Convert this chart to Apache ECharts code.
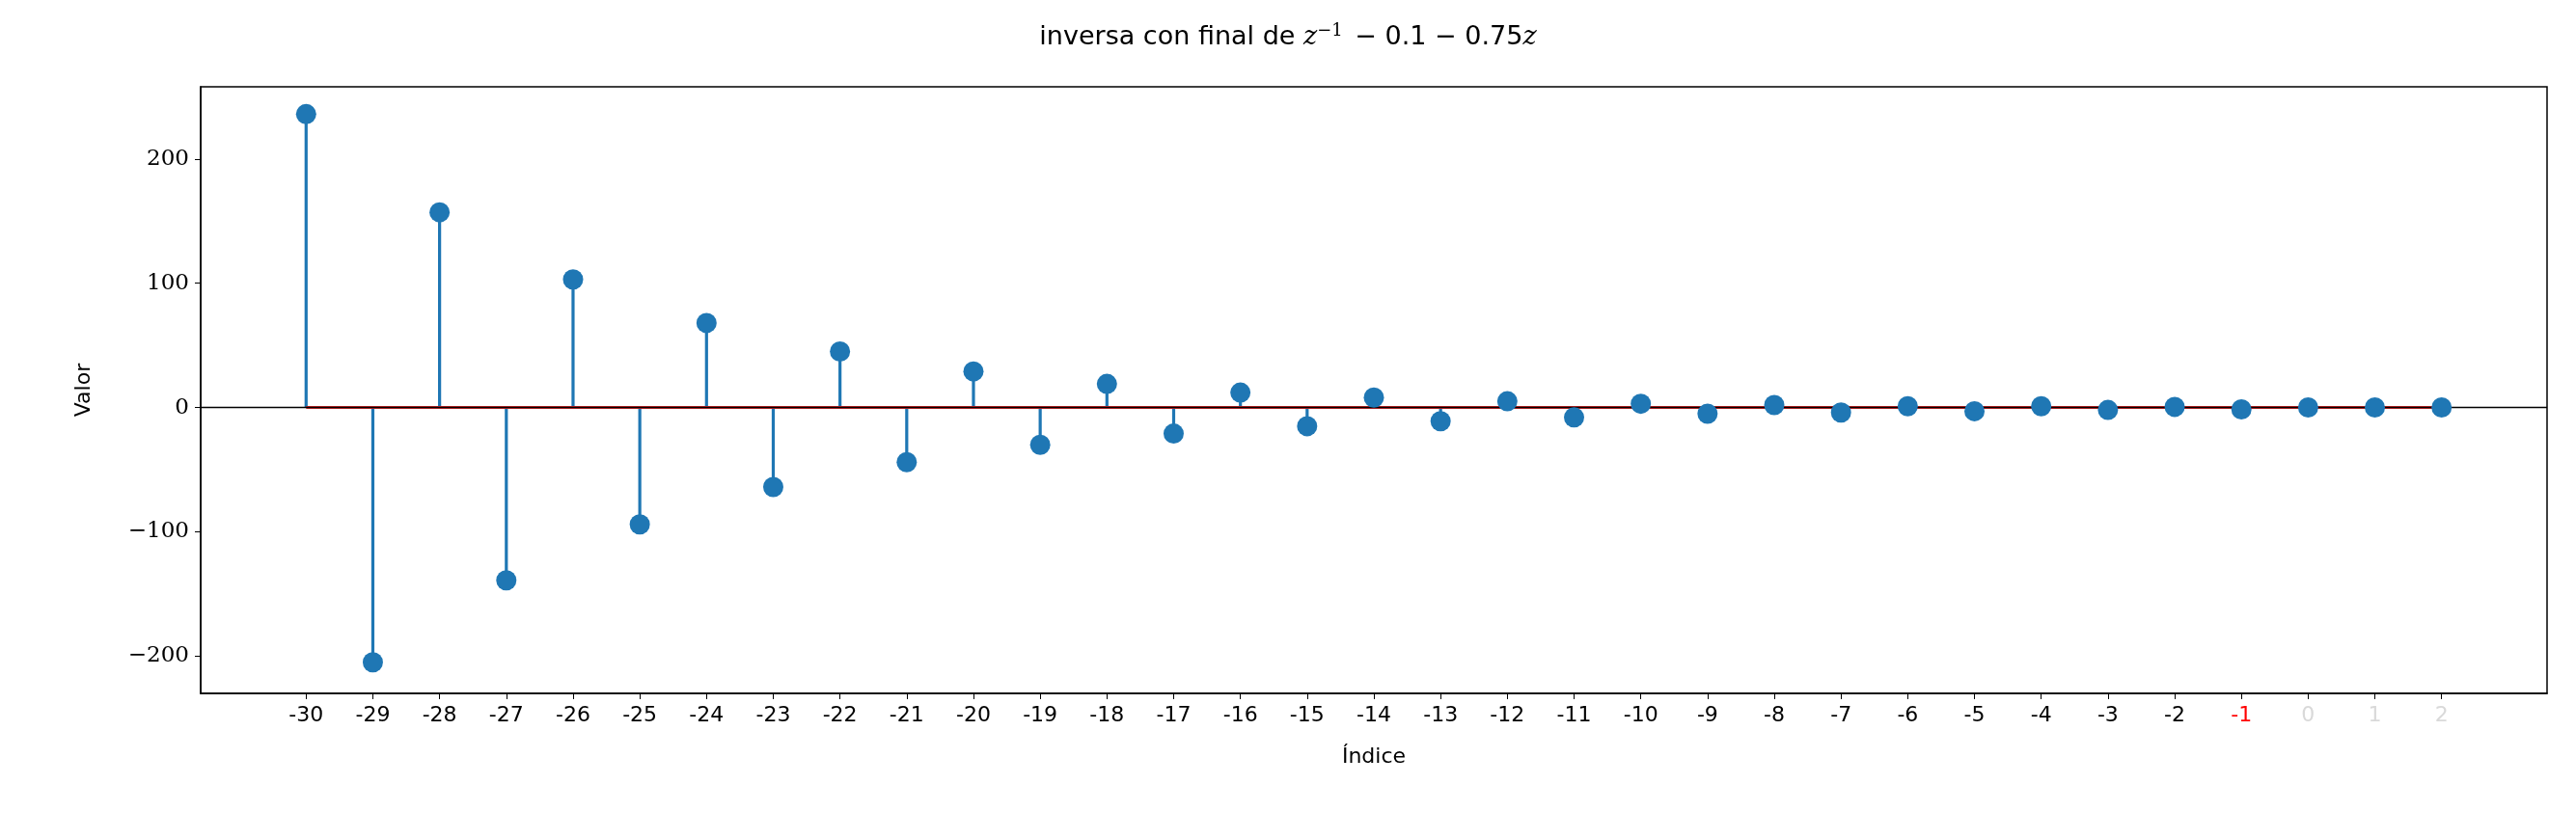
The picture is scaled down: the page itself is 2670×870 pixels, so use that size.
<!DOCTYPE html>
<html>
<head>
<meta charset="UTF-8">
<script src="https://cdn.jsdelivr.net/npm/echarts@6/dist/echarts.min.js"></script>
</head>
<body style="margin:0;background:#fff">
<div id="main" style="width:2670px;height:870px;"></div>
<script>
var indices = [-30,-29,-28,-27,-26,-25,-24,-23,-22,-21,-20,-19,-18,-17,-16,-15,-14,-13,-12,-11,-10,-9,-8,-7,-6,-5,-4,-3,-2,-1,0,1,2];
var values = [236,-205,157,-139,103,-94,68,-64,45,-44,29,-30,19,-21,12,-15,8,-11,5,-8,3,-5,2,-4,1,-3,1,-2,0.5,-1.5,0,0,0];
var yTicks = [-200,-100,0,100,200];
var labelColors = {'-1':'red', '0':'#d9d9d9', '1':'#d9d9d9', '2':'#d9d9d9'};

var pts = indices.map(function(x, i){ return [x, values[i]]; });
var myChart = echarts.init(document.getElementById('main'));
var sans = 'DejaVu Sans';
var serif = 'DejaVu Serif';
myChart.setOption({
  animation: false,
  title: {
    text: '{a|inversa con final de }{m|z}{s|−1}{a| − 0.1 − 0.75}{m|z}',
    left: 'center', top: 18,
    textStyle: {
      fontWeight: 'normal',
      rich: {
        a: {fontFamily: sans, fontSize: 27, fontWeight: 'normal', color: '#000'},
        m: {fontFamily: serif, fontStyle: 'italic', fontWeight: 'normal', fontSize: 27, color: '#000'},
        s: {fontFamily: serif, fontSize: 18, fontWeight: 'normal', color: '#000', verticalAlign: 'top', padding: [0,4,14,0]}
      }
    }
  },
  grid: {left: 208, right: 30, top: 90, bottom: 151, show: true, borderColor: '#000', borderWidth: 1.5, backgroundColor: 'transparent'},
  xAxis: {
    type: 'value', min: -31.58, max: 3.58,
    name: 'Índice', nameLocation: 'middle', nameGap: 55,
    nameTextStyle: {fontFamily: sans, fontSize: 22, color: '#000'},
    axisLine: {onZero: false, lineStyle: {color: '#000', width: 1.5}},
    axisTick: {show: true, customValues: indices, length: 6, lineStyle: {color: '#000'}},
    axisLabel: {
      customValues: indices, fontFamily: sans, fontSize: 22, margin: 12,
      formatter: function(v){ return '{' + (labelColors[String(v)] ? 'c' + String(v).replace('-','m') : 'n') + '|' + v + '}'; },
      rich: {n: {color: '#000', fontSize: 22, fontFamily: sans}, cm1: {color: 'red', fontSize: 22, fontFamily: sans},
             c0: {color: '#d9d9d9', fontSize: 22, fontFamily: sans}, c1: {color: '#d9d9d9', fontSize: 22, fontFamily: sans},
             c2: {color: '#d9d9d9', fontSize: 22, fontFamily: sans}}
    },
    splitLine: {show: false}
  },
  yAxis: {
    type: 'value', min: -230, max: 258,
    name: 'Valor', nameLocation: 'middle', nameGap: 110,
    nameTextStyle: {fontFamily: sans, fontSize: 22, color: '#000'},
    axisLine: {show: true, onZero: false, lineStyle: {color: '#000', width: 1.5}},
    axisTick: {show: true, customValues: yTicks, length: 6, lineStyle: {color: '#000'}},
    axisLabel: {customValues: yTicks, fontFamily: serif, fontSize: 23, color: '#000', margin: 12,
      formatter: function(v){ return v < 0 ? '−' + (-v) : String(v); }},
    splitLine: {show: false}
  },
  series: [
    {
      type: 'custom', z: 2,
      renderItem: function(params, api){
        var p0 = api.coord([api.value(0), 0]);
        var p1 = api.coord([api.value(0), api.value(1)]);
        return {type: 'line', shape: {x1: p0[0], y1: p0[1], x2: p1[0], y2: p1[1]},
                style: {stroke: '#1f77b4', lineWidth: 3.2}};
      },
      data: pts
    },
    {
      type: 'line', data: [[-30,0],[2,0]], symbol: 'none', z: 3,
      lineStyle: {color: '#d62728', width: 3}
    },
    {
      type: 'line', data: [[-31.58,0],[3.58,0]], symbol: 'none', z: 3,
      lineStyle: {color: '#000', width: 1.5}
    },
    {
      type: 'scatter', data: pts, symbolSize: 21, z: 4,
      itemStyle: {color: '#1f77b4', opacity: 1}
    }
  ]
});
</script>
</body>
</html>
